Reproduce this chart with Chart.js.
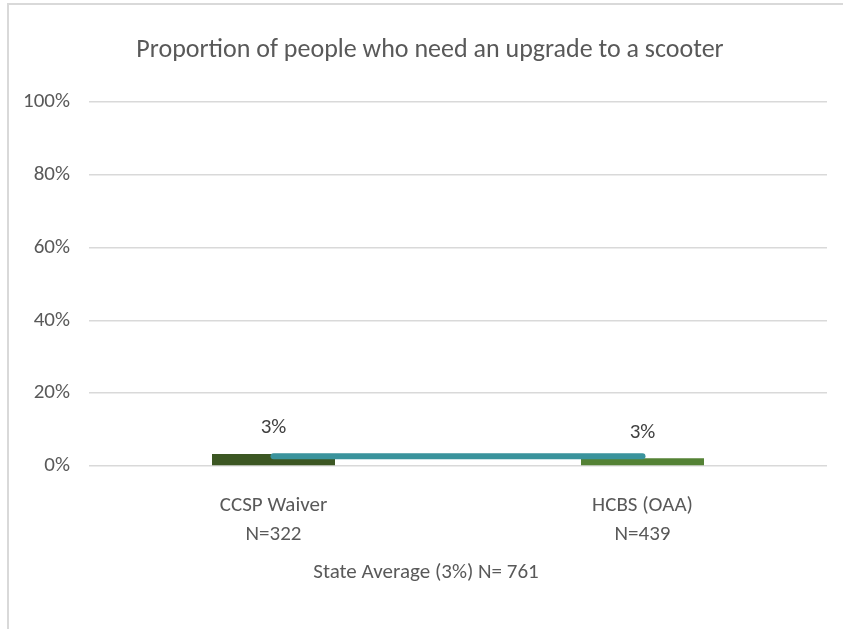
<!DOCTYPE html>
<html>
<head>
<meta charset="utf-8">
<script src="https://cdn.jsdelivr.net/npm/chart.js@4"></script>
<style>
    html, body { margin: 0; padding: 0; background: #fff; }
    #wrap {
        position: absolute; left: 0; top: 0; width: 843px; height: 629px;
    }
    #frame {
        position: absolute; left: 7px; top: 3px; right: 0; bottom: 0;
        border-left: 2px solid #d9d9d9; border-top: 2px solid #d9d9d9;
    }
    canvas { position: absolute; left: 0; top: 0; }
</style>
</head>
<body>
<div id="wrap">
    <div id="frame"></div>
    <canvas id="chart" width="843" height="629"></canvas>
</div>
<script>
const FONT = "Carlito, 'Liberation Sans Narrow', 'Liberation Sans', sans-serif";
const TEXT_COLOR = '#595959';

const chartTitle   = 'Proportion of people who need an upgrade to a scooter';
const categories   = [['CCSP Waiver', 'N=322'], ['HCBS (OAA)', 'N=439']];
const barValues    = [3.3, 2.1];
const barLabels    = ['3%', '3%'];
const barColors    = ['#3c5723', '#548235'];
const stateAverage = [2.7, 2.7];
const stateLabel   = 'State Average (3%) N= 761';
const yTicks       = [0, 20, 40, 60, 80, 100];

// draws the "3%" value labels above each bar
const barLabelPlugin = {
    id: 'barLabels',
    afterDatasetsDraw(chart) {
        const ctx = chart.ctx;
        const meta = chart.getDatasetMeta(1);
        ctx.save();
        ctx.font = '21px ' + FONT;
        ctx.fillStyle = '#404040';
        ctx.textAlign = 'center';
        ctx.textBaseline = 'middle';
        meta.data.forEach((bar, i) => {
            ctx.fillText(barLabels[i], bar.x, bar.y - 26);
        });
        ctx.restore();
    }
};

// title on top and the legend line under the axis (text only, no marker)
const textPlugin = {
    id: 'extraText',
    afterDraw(chart) {
        const ctx = chart.ctx;
        const area = chart.chartArea;
        ctx.save();
        ctx.fillStyle = TEXT_COLOR;
        ctx.textAlign = 'center';
        ctx.textBaseline = 'middle';
        ctx.font = '26px ' + FONT;
        ctx.fillText(chartTitle, 430, area.top - 52);
        ctx.font = '21px ' + FONT;
        ctx.fillText(stateLabel, 426, area.bottom + 107);
        ctx.restore();
    }
};

const ctx = document.getElementById('chart').getContext('2d');
const chart = new Chart(ctx, {
    type: 'bar',
    data: {
        labels: categories,
        datasets: [
            {
                type: 'line',
                label: stateLabel,
                data: stateAverage,
                borderColor: '#3a939c',
                backgroundColor: 'transparent',
                borderWidth: 6,
                borderCapStyle: 'round',
                pointRadius: 0,
                order: 0,
            },
            {
                type: 'bar',
                label: 'Proportion',
                data: barValues,
                backgroundColor: barColors,
                barPercentage: 1,
                categoryPercentage: 1 / 3,
                order: 1,
            }
        ]
    },
    options: {
        responsive: false,
        animation: false,
        layout: { padding: { left: 0, right: 16, top: 102, bottom: 0 } },
        plugins: {
            title: { display: false },
            legend: { display: false },
            tooltip: { enabled: false },
        },
        scales: {
            x: {
                grid: { display: false, drawTicks: false },
                border: { display: false },
                ticks: {
                    color: TEXT_COLOR,
                    font: { family: FONT, size: 21, lineHeight: 1.38 },
                    padding: 25,
                    maxRotation: 0,
                },
                afterFit: (scale) => { scale.height = 163; },
            },
            y: {
                min: 0,
                max: 100,
                afterBuildTicks: (scale) => { scale.ticks = yTicks.map(v => ({ value: v })); },
                grid: { color: '#d9d9d9', lineWidth: 1.5, drawTicks: false },
                border: { display: false },
                ticks: {
                    color: TEXT_COLOR,
                    font: { family: FONT, size: 21 },
                    padding: 19,
                    callback: (v) => v + '%',
                },
                afterFit: (scale) => { scale.width = 89; },
            }
        }
    },
    plugins: [barLabelPlugin, textPlugin]
});
</script>
</body>
</html>
